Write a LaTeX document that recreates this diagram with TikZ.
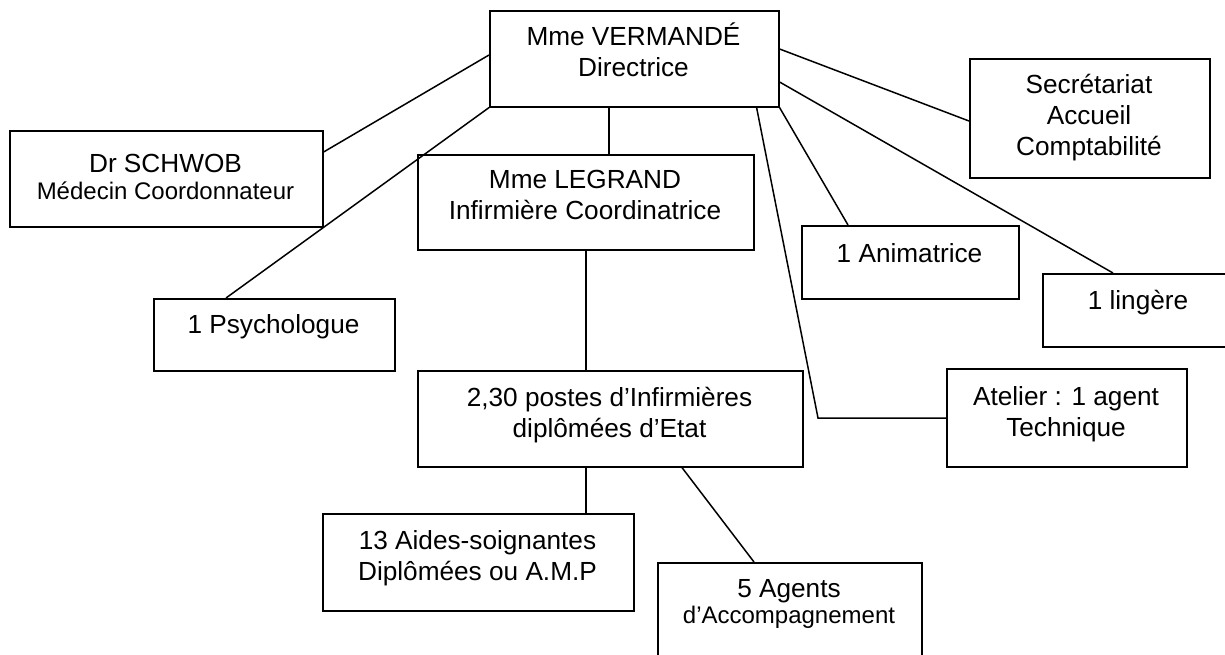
\documentclass[tikz,border=0pt]{standalone}
\usepackage{fontspec}
\setmainfont{Liberation Sans}
\usetikzlibrary{calc}
\newcommand{\bigf}{\fontsize{26.2}{31}\selectfont}
\newcommand{\smallf}{\fontsize{24}{28}\selectfont}
\tikzset{
  box/.style={draw, line width=1.6pt, inner sep=0pt, anchor=north west},
  txt/.style={inner sep=0pt, anchor=base, font=\bigf},
  link/.style={line width=1.5pt}
}
\begin{document}
\begin{tikzpicture}[x=1pt,y=-1pt]
\clip (0,0) rectangle (1225,654);
\fill[white] (0,0) rectangle (1225,654);
% boxes
\node[box, minimum width=289, minimum height=96] (dir) at (489,10) {};
\node[box, minimum width=313, minimum height=96] (sch) at (9,130) {};
\node[box, minimum width=336, minimum height=95] (leg) at (417,154) {};
\node[box, minimum width=240, minimum height=119] (sec) at (969,58) {};
\node[box, minimum width=241, minimum height=72] (psy) at (153,298) {};
\node[box, minimum width=217, minimum height=73] (ani) at (801,225) {};
\node[box, minimum width=192, minimum height=73] (lin) at (1042,273) {};
\node[box, minimum width=385, minimum height=96] (ide) at (417,370) {};
\node[box, minimum width=240, minimum height=98] (atl) at (946,368) {};
\node[box, minimum width=311, minimum height=97] (aid) at (322,513) {};
\node[box, minimum width=264, minimum height=120] (agt) at (657,562) {};
% texts
\node[txt] (dirT) at (633.5,45) {\begin{tabular}[t]{@{}c@{}}Mme VERMANDÉ\\Directrice\end{tabular}};
\node[txt] (schT) at (165.5,172) {\begin{tabular}[t]{@{}c@{}}Dr SCHWOB\\[-4pt]{\smallf Médecin Coordonnateur}\end{tabular}};
\node[txt] (legT) at (585,188) {\begin{tabular}[t]{@{}c@{}}Mme LEGRAND\\Infirmière Coordinatrice\end{tabular}};
\node[txt] (secT) at (1089,93) {\begin{tabular}[t]{@{}c@{}}Secrétariat\\Accueil\\Comptabilité\end{tabular}};
\node[txt] (psyT) at (273.5,333) {1 Psychologue};
\node[txt] (aniT) at (909.5,262) {1 Animatrice};
\node[txt] (linT) at (1138,309) {1 lingère};
\node[txt] (ideT) at (609.5,406) {\begin{tabular}[t]{@{}c@{}}2,30 postes d’Infirmières\\diplômées d’Etat\end{tabular}};
\node[txt] (atlT) at (1066,405) {\begin{tabular}[t]{@{}c@{}}Atelier : 1 agent\\Technique\end{tabular}};
\node[txt] (aidT) at (477.5,549) {\begin{tabular}[t]{@{}c@{}}13 Aides-soignantes\\Diplômées ou A.M.P\end{tabular}};
\node[txt] (agtT) at (789,597) {\begin{tabular}[t]{@{}c@{}}5 Agents\\[-5pt]{\smallf d’Accompagnement}\end{tabular}};
% connectors
\coordinate (bend) at (818,418);
\draw[link] ($(dir.north west)+(0,45)$) -- ($(sch.north east)+(0,22)$);
\draw[link] (dir.south west) -- ($(psy.north west)+(73,0)$);
\draw[link] ($(dir.south west)+(120,0)$) -- ($(leg.north west)+(120+72,0)$);
\draw[link] ($(dir.north east)+(0,39)$) -- ($(sec.north west)+(0,63)$);
\draw[link] ($(dir.north east)+(0,72)$) -- ($(lin.north west)+(71,0)$);
\draw[link] (dir.south east) -- ($(ani.north west)+(47,0)$);
\draw[link] ($(dir.south east)+(-23,0)$) -- (bend) -- (bend -| atl.west);
\draw[link] (leg.south) -- (leg.south |- ide.north);
\draw[link] ($(ide.south west)+(169,0)$) -- ($(aid.north west)+(264,0)$);
\draw[link] ($(ide.south west)+(265,0)$) -- ($(agt.north west)+(97,0)$);
\end{tikzpicture}
\end{document}
